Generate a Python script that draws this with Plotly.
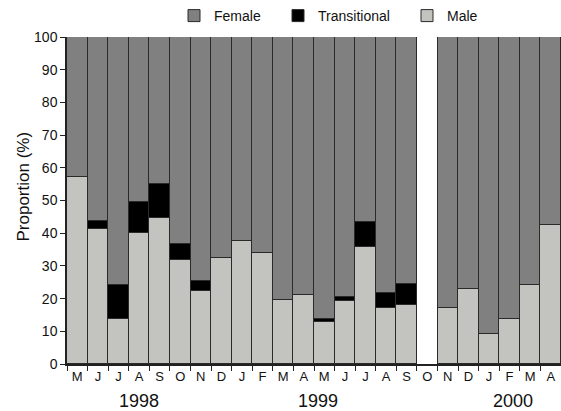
import plotly.graph_objects as go

months = ["M", "J", "J", "A", "S", "O", "N", "D", "J", "F", "M", "A",
          "M", "J", "J", "A", "S", "O", "N", "D", "J", "F", "M", "A"]
male = [57.2, 41.3, 13.7, 40.1, 44.5, 31.8, 22.3, 32.5, 37.5, 33.9, 19.6, 21.2,
        12.7, 19.3, 35.8, 17.0, 17.9, None, 17.0, 22.8, 9.1, 13.9, 24.2, 42.4]
transitional = [0, 2.4, 10.5, 9.5, 10.5, 4.9, 3.2, 0, 0, 0, 0, 0,
                1.0, 1.1, 7.6, 4.8, 6.5, None, 0, 0, 0, 0, 0, 0]
female = [None if m is None else round(100 - m - t, 1) for m, t in zip(male, transitional)]
years = ["1998", "1999", "2000"]
year_pos = [3.0, 11.7, 21.15]

x = list(range(len(months)))
font = "Liberation Sans, Arial, sans-serif"
line = dict(color="#2a2a2a", width=1)

fig = go.Figure()
fig.add_bar(x=x, y=male, name="Male", legend="legend3",
            marker=dict(color="#c3c4c0", line=line))
fig.add_bar(x=x, y=transitional, name="Transitional", legend="legend2",
            marker=dict(color="#000000", line=line))
fig.add_bar(x=x, y=female, name="Female", legend="legend",
            marker=dict(color="#808080", line=line))

def leg(xpx):
    return dict(xref="container", yref="container", x=xpx / 561, xanchor="left",
                y=1 - 16 / 411, yanchor="middle", font=dict(size=14, family=font),
                bgcolor="rgba(0,0,0,0)", borderwidth=0, itemwidth=30)

fig.update_layout(
    width=561, height=411,
    barmode="stack", bargap=0,
    margin=dict(l=67, r=0, t=37, b=47, autoexpand=False),
    paper_bgcolor="white", plot_bgcolor="white",
    font=dict(family=font, size=13, color="#111"),
    showlegend=True,
    legend=leg(174), legend2=leg(278), legend3=leg(407),
    xaxis=dict(range=[-0.5, len(months) - 0.5], tickmode="array", tickvals=x, ticktext=months,
               ticks="", showline=True, linecolor="#222", linewidth=1.5, showgrid=False,
               zeroline=False, tickfont=dict(size=13), automargin=False,
               minor=dict(tick0=-0.5, dtick=1, ticks="outside", ticklen=5, tickcolor="#222")),
    yaxis=dict(range=[0, 100], dtick=10, ticks="outside", ticklen=5, tickcolor="#222",
               showline=True, linecolor="#222", linewidth=1.5, showgrid=False, zeroline=False,
               tickfont=dict(size=14), automargin=False),
)

fig.add_annotation(x=0, y=0.5, xref="paper", yref="paper", text="Proportion (%)",
                   textangle=-90, showarrow=False, xanchor="center", yanchor="middle",
                   xshift=-44, yshift=14, font=dict(size=17, family=font))

for yr, px in zip(years, year_pos):
    fig.add_annotation(x=px, y=0, xref="x", yref="paper", text=yr, showarrow=False,
                       yshift=-25, yanchor="top", font=dict(size=18, family=font))

fig.write_html("out.html", config={"displayModeBar": False},
               post_script="document.body.style.margin='0';")
